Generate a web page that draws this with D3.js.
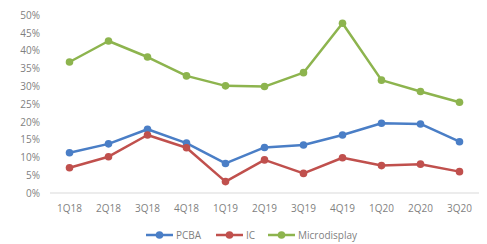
<!DOCTYPE html>
<html><head><meta charset="utf-8">
<script src="https://cdn.jsdelivr.net/npm/d3@7"></script>
<style>body{margin:0;background:#fff;}svg{display:block;}text{font-family:"Open Sans",sans-serif;}</style>
</head><body>
<svg id="c" width="487" height="244"></svg>
<script>
const categories = ["1Q18","2Q18","3Q18","4Q18","1Q19","2Q19","3Q19","4Q19","1Q20","2Q20","3Q20"];
const pcba = [11.3,13.8,17.9,14.0,8.3,12.8,13.5,16.3,19.6,19.4,14.4];
const ic = [7.1,10.2,16.3,12.7,3.2,9.3,5.5,9.9,7.7,8.1,6.0];
const microdisplay = [36.8,42.7,38.2,32.9,30.1,29.9,33.8,47.7,31.7,28.5,25.5];
const yTicks = [0,5,10,15,20,25,30,35,40,45,50];
const seriesNames = ["PCBA","IC","Microdisplay"];
const colors = ["#4A7EC6","#C0504D","#8DB44E"];

const series = [pcba, ic, microdisplay].map((v,i)=>({name:seriesNames[i], values:v, color:colors[i]}));
const svg = d3.select("#c");
const x = d3.scaleBand().domain(categories).range([50,479]);
const y = d3.scaleLinear().domain([0,50]).range([193,15]);

// baseline
svg.append("line").attr("x1",50).attr("x2",479).attr("y1",y(0)).attr("y2",y(0))
  .attr("stroke","#d9d9d9").attr("stroke-width",1);

// y axis labels
const yAxis = d3.axisLeft(y).tickValues(yTicks).tickFormat(d=>d+"%").tickSize(0).tickPadding(0);
const gy = svg.append("g").attr("transform","translate(40,0)").call(yAxis);
gy.select(".domain").remove();
gy.selectAll("text").attr("fill","#7f7f7f").style("font-size","10px").style("font-family","Open Sans, sans-serif");

// x axis labels
const xAxis = d3.axisBottom(x).tickSize(0).tickPadding(0);
const gx = svg.append("g").attr("transform","translate(0,205)").call(xAxis);
gx.select(".domain").remove();
gx.selectAll("text").attr("fill","#7f7f7f").style("font-size","10px").style("font-family","Open Sans, sans-serif");

const line = d3.line().x((d,i)=>x(categories[i])+x.bandwidth()/2).y(d=>y(d));
series.forEach(s=>{
  svg.append("path").datum(s.values).attr("d",line).attr("fill","none")
    .attr("stroke",s.color).attr("stroke-width",2.5).attr("stroke-linejoin","round");
  svg.selectAll(null).data(s.values).enter().append("circle")
    .attr("cx",(d,i)=>x(categories[i])+x.bandwidth()/2).attr("cy",d=>y(d)).attr("r",3.8)
    .attr("fill",s.color);
});

// legend
const legendX = [146, 216, 268];
const lg = svg.append("g");
series.forEach((s,i)=>{
  const g = lg.append("g").attr("transform",`translate(${legendX[i]},235)`);
  g.append("line").attr("x1",0).attr("x2",27).attr("stroke",s.color).attr("stroke-width",2.5);
  g.append("circle").attr("cx",13.5).attr("r",3.8).attr("fill",s.color);
  g.append("text").attr("x",30).attr("y",3.5).attr("fill","#7f7f7f").style("font-size","10px").text(s.name);
});
</script>
</body></html>
